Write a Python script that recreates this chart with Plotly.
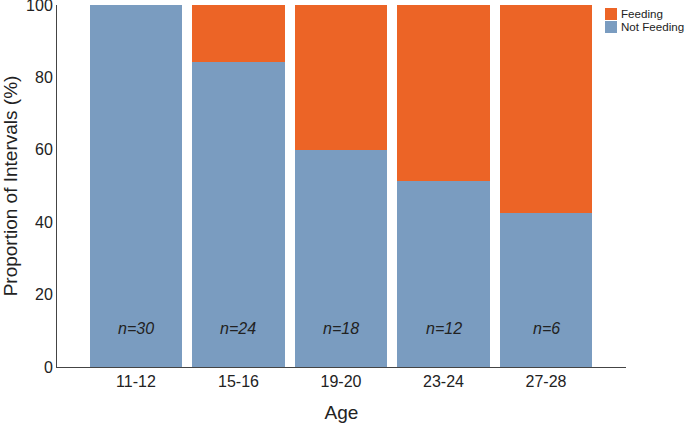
import plotly.graph_objects as go

ages = ["11-12", "15-16", "19-20", "23-24", "27-28"]
not_feeding = [100, 84.3, 60.0, 51.5, 42.6]
feeding = [0, 15.7, 40.0, 48.5, 57.4]
n_labels = ["n=30", "n=24", "n=18", "n=12", "n=6"]
legend_names = ["Feeding", "Not Feeding"]

BLUE = "#7a9cc0"
ORANGE = "#ec6426"
FONT = "Arial, Liberation Sans, sans-serif"

fig = go.Figure()
fig.add_trace(go.Bar(x=ages, y=not_feeding, name="Not Feeding", marker=dict(color=BLUE, line_width=0)))
fig.add_trace(go.Bar(x=ages, y=feeding, name="Feeding", marker=dict(color=ORANGE, line_width=0)))

for age, lab in zip(ages, n_labels):
    fig.add_annotation(x=age, y=10.5, text=f"<i>{lab}</i>", showarrow=False,
                       font=dict(size=16, color="#222"))

# hand-made legend (tighter than plotly's own)
W, H, L, T = 685, 423, 57, 5
pw, ph = W - L - 59, H - T - 56
for i, (name, col) in enumerate(zip(legend_names, [ORANGE, BLUE])):
    top = 8 + i * 13
    fig.add_shape(type="rect", xref="paper", yref="paper", line_width=0, fillcolor=col,
                  x0=(605 - L) / pw, x1=(617 - L) / pw,
                  y0=(H - 56 - top) / ph, y1=(H - 56 - top - 12) / ph)
    fig.add_annotation(xref="paper", yref="paper", x=(619 - L) / pw, y=(H - 56 - top - 6) / ph,
                       xanchor="left", yanchor="middle", text=name, showarrow=False,
                       font=dict(size=11.6, color="#222"))

fig.update_layout(
    barmode="stack", bargap=0.1, showlegend=False,
    width=W, height=H,
    margin=dict(l=L, r=59, t=T, b=56, autoexpand=False),
    plot_bgcolor="white", paper_bgcolor="white",
    font=dict(family=FONT, size=16, color="#222"),
)
fig.update_xaxes(type="category", range=[-0.77, 4.78], showline=True, linecolor="#444", linewidth=1,
                 ticks="", automargin=False, title=dict(text="Age", standoff=16))
fig.update_yaxes(range=[0, 100], tickvals=[0, 20, 40, 60, 80, 100], showline=True, linecolor="#444",
                 linewidth=1, showgrid=False, zeroline=False, ticks="", automargin=False,
                 ticklabeloverflow="allow", title=dict(text="Proportion of Intervals (%)", standoff=8))

fig.write_html("out.html", config={"displayModeBar": False},
               post_script="document.body.style.margin='0px';")
